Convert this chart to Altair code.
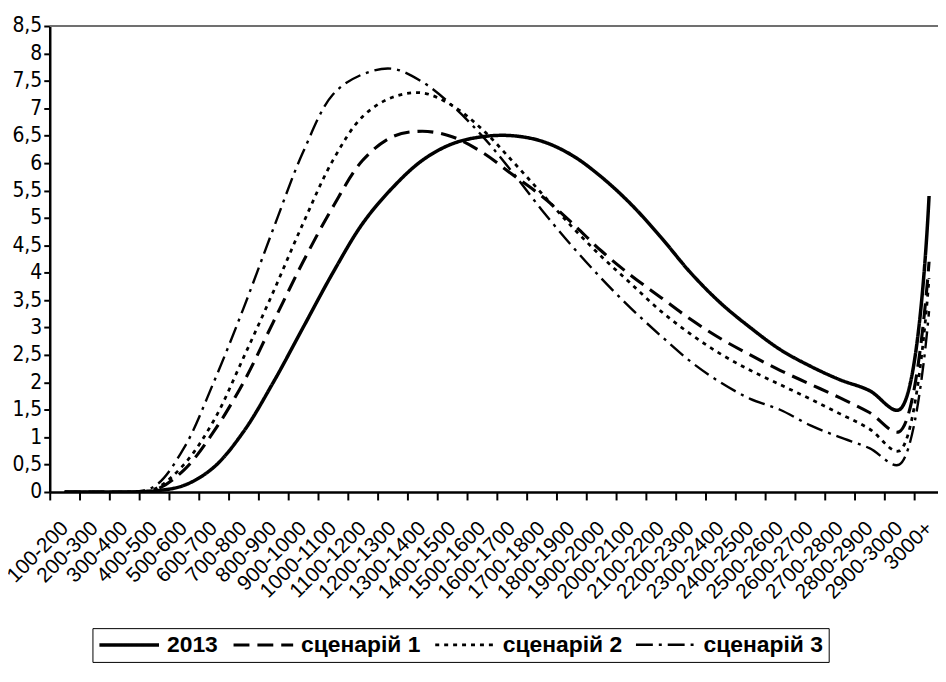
import altair as alt
import pandas as pd

categories = ["100-200", "200-300", "300-400", "400-500", "500-600", "600-700",
              "700-800", "800-900", "900-1000", "1000-1100", "1100-1200", "1200-1300",
              "1300-1400", "1400-1500", "1500-1600", "1600-1700", "1700-1800", "1800-1900",
              "1900-2000", "2000-2100", "2100-2200", "2200-2300", "2300-2400", "2400-2500",
              "2500-2600", "2600-2700", "2700-2800", "2800-2900", "2900-3000", "3000+"]

v2013 = [0, 0, 0, 0.02, 0.12, 0.45, 1.1, 2.0, 3.0, 4.0, 4.9, 5.55, 6.05, 6.35, 6.48,
         6.5, 6.4, 6.15, 5.75, 5.25, 4.65, 4.0, 3.45, 3.0, 2.6, 2.3, 2.05, 1.85, 1.5, 5.4]
scen1 = [0, 0, 0, 0.03, 0.4, 1.1, 2.0, 3.1, 4.2, 5.2, 6.05, 6.48, 6.58, 6.48, 6.2,
         5.8, 5.4, 4.92, 4.4, 3.95, 3.55, 3.15, 2.8, 2.5, 2.22, 1.97, 1.72, 1.45, 1.1, 4.2]
scen2 = [0, 0, 0, 0.05, 0.5, 1.3, 2.45, 3.65, 4.9, 6.05, 6.85, 7.2, 7.28, 7.05, 6.62,
         6.05, 5.45, 4.85, 4.3, 3.8, 3.3, 2.88, 2.52, 2.22, 1.96, 1.7, 1.43, 1.15, 0.75, 3.9]
scen3 = [0, 0, 0, 0.1, 0.8, 2.0, 3.35, 4.8, 6.2, 7.25, 7.62, 7.72, 7.48, 7.05, 6.5,
         5.85, 5.15, 4.5, 3.9, 3.35, 2.85, 2.38, 2.0, 1.7, 1.5, 1.22, 1.0, 0.8, 0.5, 3.3]

series_names = ["2013", "сценарій 1", "сценарій 2", "сценарій 3"]
series_values = [v2013, scen1, scen2, scen3]
y_ticks = [0, 0.5, 1, 1.5, 2, 2.5, 3, 3.5, 4, 4.5, 5, 5.5, 6, 6.5, 7, 7.5, 8, 8.5]
top_border = [8.5]

rows = []
for name, vals in zip(series_names, series_values):
    for c, v in zip(categories, vals):
        rows.append({"cat": c, "value": v, "series": name})
df = pd.DataFrame(rows)

FONT = "Liberation Sans, Arial, sans-serif"
NARROW = "Liberation Sans Narrow, Arial Narrow, DejaVu Sans Condensed, Liberation Sans"

legend = alt.Legend(
    title=None, orient="none", legendX=43, legendY=606, direction="horizontal",
    columns=4, symbolType="M-3,0H3", symbolSize=400, symbolOffset=20,
    symbolStrokeColor="black", labelOffset=26,
    labelFont=FONT, labelFontSize=23, labelFontWeight="bold", labelColor="black",
    strokeColor="black", padding=5, columnPadding=8, cornerRadius=0,
)

x_enc = alt.X(
    "cat:N", sort=categories, bandPosition=0.5,
    scale=alt.Scale(type="band", paddingInner=0, paddingOuter=0, range=[0, 900]),
    axis=alt.Axis(title=None, labelAngle=-45, labelAlign="right", labelBaseline="middle",
                  labelOverlap=False, tickBand="extent", labelFont=FONT, labelFontSize=21,
                  labelColor="black", domainColor="black", domainWidth=2.5,
                  tickColor="black", tickWidth=2, tickSize=8, labelPadding=25, grid=False),
)
y_axis = alt.Axis(title=None, values=y_ticks,
                  labelExpr="replace(format(datum.value, '~g'), '.', ',')",
                  labelOverlap=False,
                  labelFont=NARROW, labelFontSize=21, labelColor="black",
                  domainColor="black", domainWidth=2.5, tickColor="black", tickWidth=2,
                  tickSize=6, labelPadding=2, grid=False)
y_scale = alt.Scale(domain=[0, 8.5], nice=False)

lines = alt.Chart(df).mark_line(interpolate="catmull-rom", color="black", clip=True).encode(
    x=x_enc,
    y=alt.Y("value:Q", scale=y_scale, axis=y_axis),
    strokeDash=alt.StrokeDash(
        "series:N", sort=series_names,
        scale=alt.Scale(domain=series_names, range=[[1, 0], [16, 8], [4, 5], [17, 6, 3, 6]]),
        legend=legend),
    strokeWidth=alt.StrokeWidth(
        "series:N", sort=series_names,
        scale=alt.Scale(domain=series_names, range=[3.5, 2.4, 2.4, 2.4]),
        legend=legend),
    detail="series:N",
)

top_line = alt.Chart(pd.DataFrame({"v": top_border})).mark_rule(
    color="#707070", strokeWidth=2
).encode(y=alt.Y("v:Q", scale=y_scale, axis=y_axis))

chart = alt.layer(lines, top_line).properties(
    width=904, height=469,
    autosize=alt.AutoSizeParams(type="none"),
    padding={"left": 42, "top": 16, "right": -10, "bottom": 175},
    background="white",
).configure_view(stroke=None)

chart.save("out.html", embed_options={"renderer": "svg", "actions": False})
